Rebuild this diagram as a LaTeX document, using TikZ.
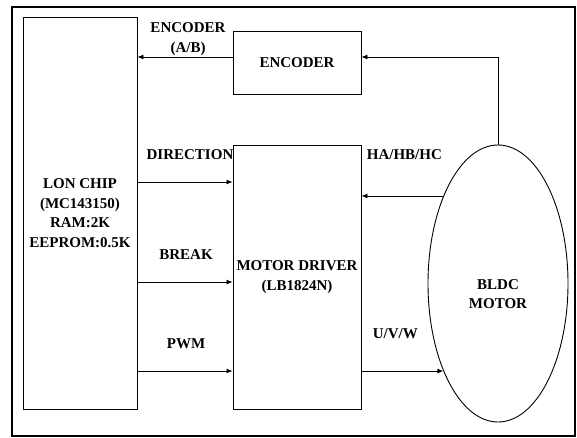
\documentclass[tikz,border=0pt]{standalone}
\usepackage{fontspec}
\setmainfont{Liberation Serif}
\usepackage{tikz}
\usetikzlibrary{arrows.meta, shapes.geometric, positioning}

\begin{document}
\begin{tikzpicture}[x=1pt, y=-1pt, >={Latex[length=6pt,width=5pt]}, line width=0.9pt,
        font=\fontsize{15}{19.5}\selectfont\bfseries,
        blk/.style={draw, rectangle, align=center, inner sep=1pt},
        lbl/.style={align=center, inner sep=1pt}]
        \useasboundingbox (0,0) rectangle (577,438);
        \draw[line width=1.2pt] (12,7) rectangle (575,436);
        \node[blk, minimum width=114pt, minimum height=392pt]
              (lon) at (80,213) {LON CHIP\\(MC143150)\\RAM:2K\\EEPROM:0.5K};
        \node[blk, minimum width=128pt, minimum height=63pt]
              (enc) at (297,62.5) {ENCODER};
        \node[blk, minimum width=128pt, minimum height=264pt]
              (drv) at (297,277) {MOTOR DRIVER\\(LB1824N)};
        \node[draw, ellipse, minimum width=140pt, minimum height=277pt, inner sep=0pt]
              (motor) at (498,283.5) {};
        \node[lbl] (motortxt) at (498,294) {BLDC\\MOTOR};
        \draw[->] ([yshift=5.5pt]enc.west) -- node[lbl, above, xshift=3pt]{ENCODER\\(A/B)} ([yshift=5.5pt]enc.west -| lon.east);
        \draw[->] (motor.north) |- ([yshift=5.5pt]enc.east);
        \draw[->] ([yshift=95pt]drv.west -| lon.east) -- node[lbl, above=21pt, xshift=5pt]{DIRECTION} ([yshift=95pt]drv.west);
        \draw[->] ([yshift=-5pt]drv.west -| lon.east) -- node[lbl, above=21pt, xshift=1pt]{BREAK} ([yshift=-5pt]drv.west);
        \draw[->] ([yshift=-94pt]drv.west -| lon.east) -- node[lbl, above=21pt, xshift=1pt]{PWM} ([yshift=-94pt]drv.west);
        \draw[->] (motor.122) -- node[lbl, above=35pt, xshift=2pt]{HA/HB/HC} (motor.122 -| drv.east);
        \draw[->] (motor.238.5 -| drv.east) -- node[lbl, above=31pt, xshift=-7pt]{U/V/W} (motor.238.5);
      \end{tikzpicture}
\end{document}
